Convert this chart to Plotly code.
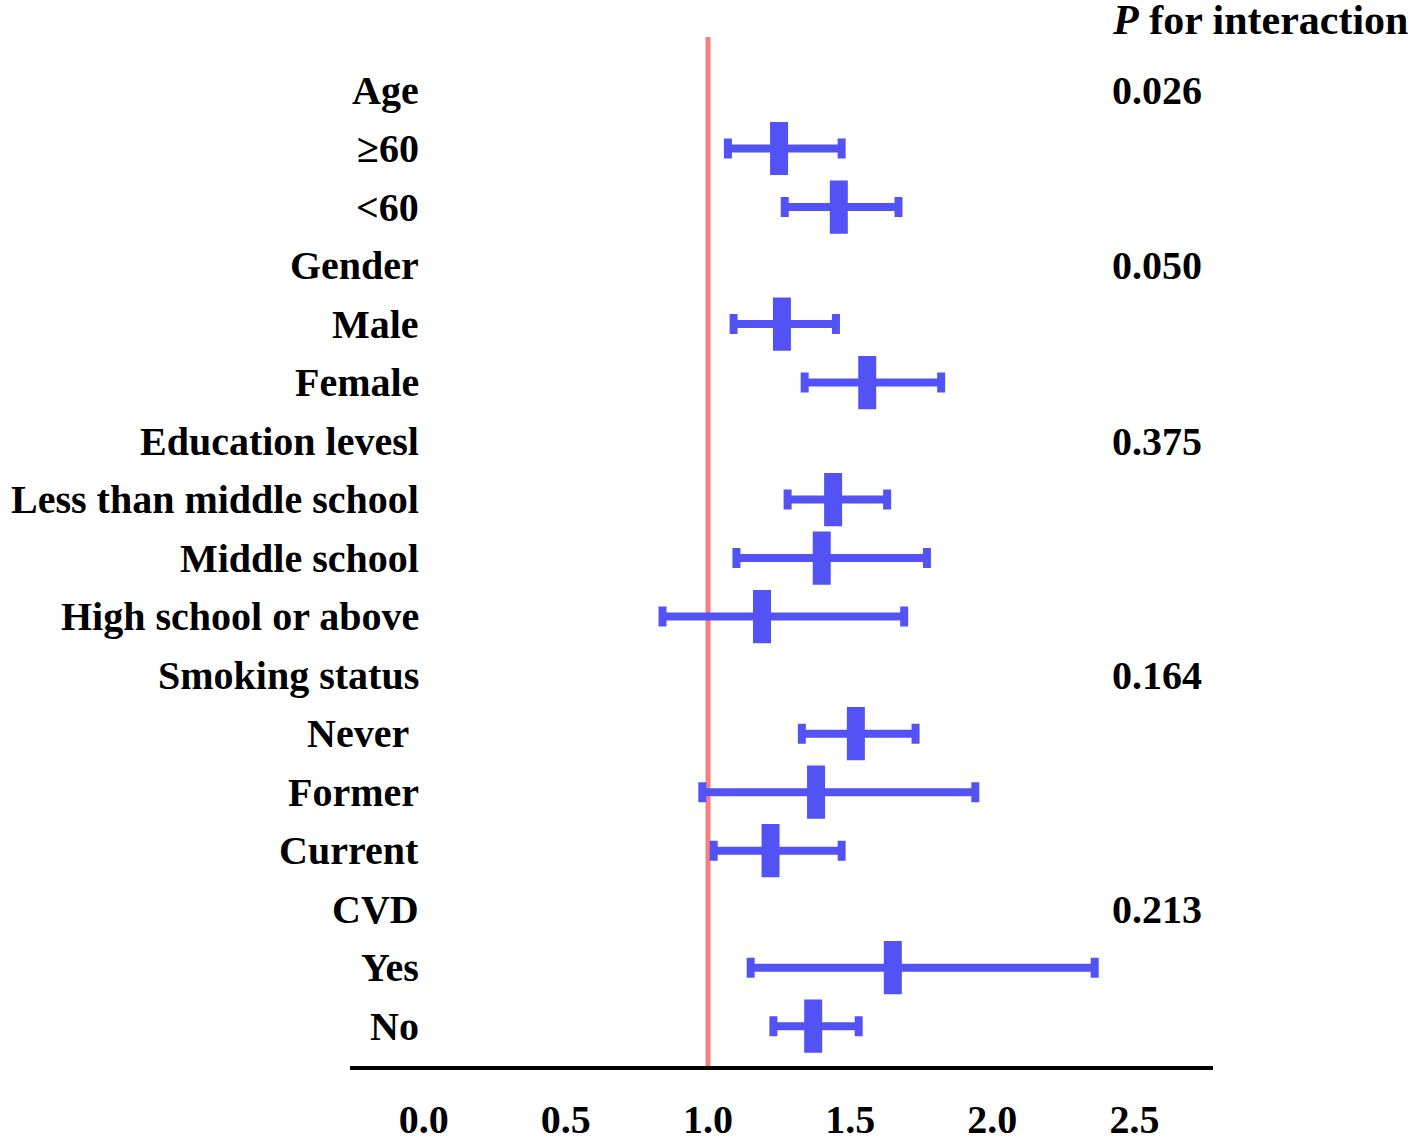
import plotly.graph_objects as go

# subgroup rows, top to bottom
labels = ["Age", "≥60", "<60", "Gender", "Male", "Female", "Education levesl",
          "Less than middle school", "Middle school", "High school or above",
          "Smoking status", "Never\u00a0", "Former", "Current", "CVD", "Yes", "No"]
estimate = [None, 1.25, 1.46, None, 1.26, 1.56, None, 1.44, 1.40, 1.19,
            None, 1.52, 1.38, 1.22, None, 1.65, 1.37]
ci_low = [None, 1.07, 1.27, None, 1.09, 1.34, None, 1.28, 1.10, 0.84,
          None, 1.33, 0.98, 1.02, None, 1.15, 1.23]
ci_high = [None, 1.47, 1.67, None, 1.45, 1.82, None, 1.63, 1.77, 1.69,
           None, 1.73, 1.94, 1.47, None, 2.36, 1.53]

# P for interaction, one per group header
p_groups = ["Age", "Gender", "Education levesl", "Smoking status", "CVD"]
p_values = ["0.026", "0.050", "0.375", "0.164", "0.213"]

x_ticks = [0.0, 0.5, 1.0, 1.5, 2.0, 2.5]

blue = "rgb(82,82,245)"
red = "rgb(246,128,128)"
font = dict(family="Liberation Serif", size=40, color="black", weight="bold")

rows = list(range(len(labels)))
err_plus = [None if e is None else h - e for e, h in zip(estimate, ci_high)]
err_minus = [None if e is None else e - l for e, l in zip(estimate, ci_low)]

fig = go.Figure()
fig.add_trace(go.Scatter(
    x=estimate, y=rows, mode="markers",
    marker=dict(symbol="line-ns", size=38, color=blue,
                line=dict(width=18, color=blue)),
    error_x=dict(type="data", symmetric=False, array=err_plus,
                 arrayminus=err_minus, color=blue, thickness=8, width=10),
    showlegend=False, hoverinfo="skip"))

# reference line at 1
fig.add_shape(type="line", x0=1, x1=1, xref="x", y0=0, y1=1, yref="paper",
              line=dict(color=red, width=5), layer="below")

# row labels
for r, lab in zip(rows, labels):
    fig.add_annotation(x=0.0823, xref="paper", y=r, yref="y",
                       text=lab.replace("<", "&lt;"), showarrow=False,
                       xanchor="right", yanchor="middle", font=font)

# p values
for g, p in zip(p_groups, p_values):
    fig.add_annotation(x=0.8806, xref="paper", y=labels.index(g), yref="y",
                       text=p, showarrow=False, xanchor="left",
                       yanchor="middle", font=font)
fig.add_annotation(x=0.8806, xref="paper", y=1.0165, yref="paper",
                   text="<i>P</i> for interaction", showarrow=False,
                   xanchor="left", yanchor="middle", font=dict(font, size=42))

fig.update_layout(
    width=1418, height=1141,
    margin=dict(l=350, r=205, t=37, b=75),
    plot_bgcolor="white", paper_bgcolor="white",
    xaxis=dict(range=[-0.259, 2.776], tickvals=x_ticks,
               ticktext=[f"{t:.1f}" for t in x_ticks],
               showgrid=False, zeroline=False, showline=True,
               linecolor="black", linewidth=4, ticks="",
               ticklabelstandoff=15, tickfont=font, automargin=False),
    yaxis=dict(range=[16.68, -0.906], visible=False, showgrid=False,
               zeroline=False, automargin=False),
)

# page margin off so the figure sits at the window's corner
fig.write_html("out.html", config={"displayModeBar": False},
               post_script="document.body.style.margin='0';"
                           "document.body.style.overflow='hidden';")
